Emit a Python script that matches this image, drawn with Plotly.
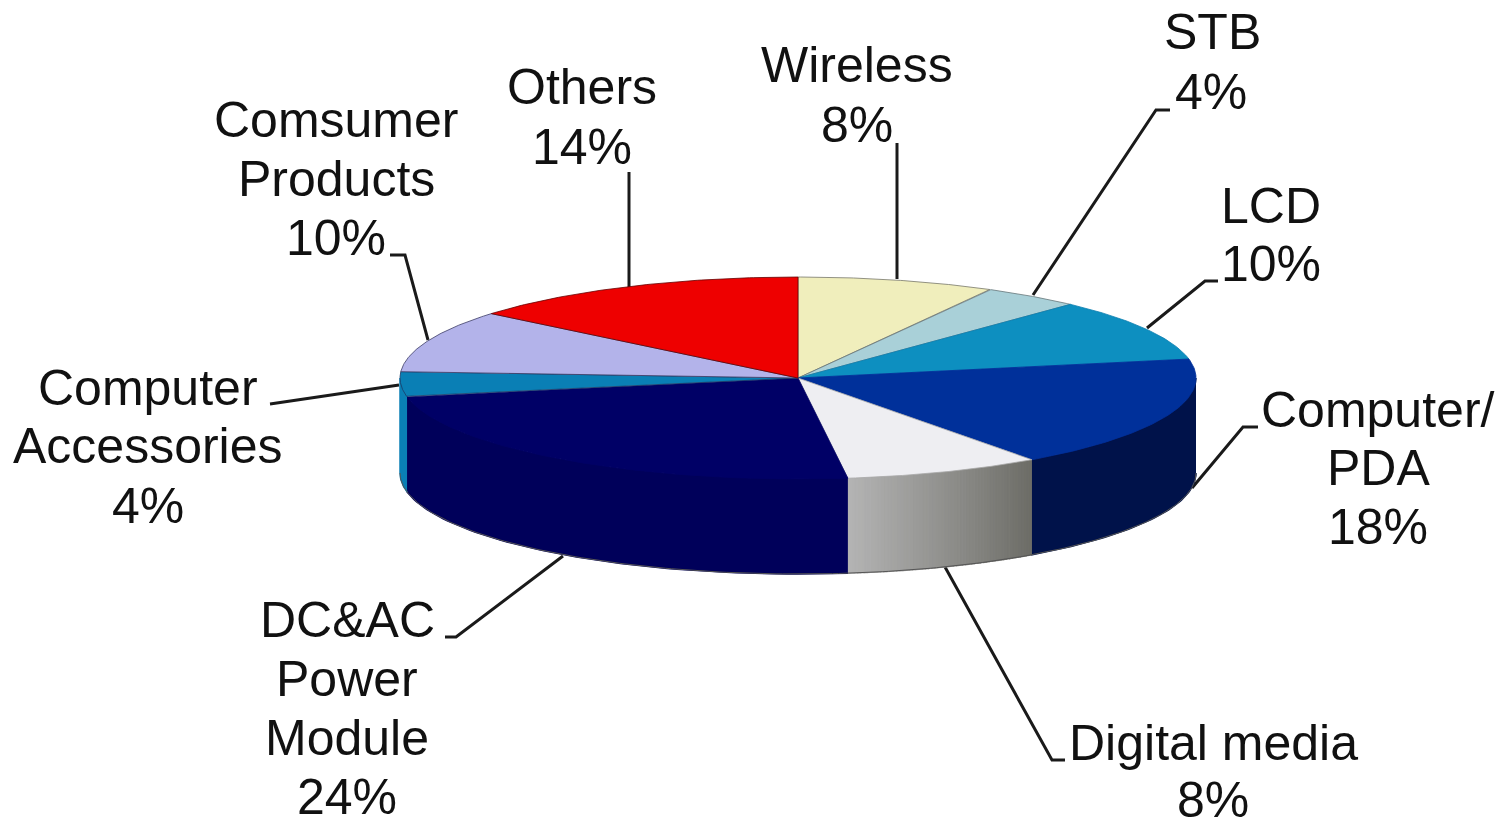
import numpy as np
import plotly.graph_objects as go

categories = ["Wireless", "STB", "LCD", "Computer/PDA", "Digital media",
              "DC&AC Power Module", "Computer Accessories", "Comsumer Products", "Others"]
values = [8, 4, 10, 18, 8, 24, 4, 10, 14]
top_colors = ["#f0eebc", "#a9d0d8", "#0d8fc0", "#00309a", "#eeeef2",
              "#000066", "#0a7fb5", "#b3b3ea", "#ee0000"]
top_outline = ["#77776a", "#66767a", "#0d7fb0", "#00309a", "#aaaaaa",
               "#000066", "#1a3a66", "#3c3c66", "#660000"]
side_from = ["#f0eebc", "#a9d0d8", "#0d8fc0", "#00124a", "#b4b4b4",
             "#00005a", "#0a7fb5", "#b3b3ea", "#ee0000"]
side_to = ["#f0eebc", "#a9d0d8", "#0d8fc0", "#00124a", "#6c6c66",
           "#00005a", "#0a7fb5", "#b3b3ea", "#ee0000"]

label_lines = [
    ("Wireless", 857, 65), ("8%", 857, 125),
    ("STB", 1212, 32), ("4%", 1211, 92),
    ("LCD", 1271, 206), ("10%", 1271, 264),
    ("Computer/", 1378, 410), ("PDA", 1378, 468), ("18%", 1378, 527),
    ("Digital media", 1213, 743), ("8%", 1213, 800),
    ("DC&AC", 347, 620), ("Power", 347, 679), ("Module", 347, 738), ("24%", 347, 797),
    ("Computer", 148, 388), ("Accessories", 148, 446), ("4%", 148, 506),
    ("Comsumer", 336, 120), ("Products", 336, 179), ("10%", 336, 238),
    ("Others", 582, 87), ("14%", 582, 147),
]
leaders = [
    [(897, 143), (897, 279)],
    [(1170, 110), (1156, 110), (1033, 295)],
    [(1218, 281), (1205, 281), (1147, 328)],
    [(1258, 427), (1243, 427), (1192, 488)],
    [(1065, 760), (1052, 760), (945, 567)],
    [(445, 637), (456, 637), (563, 556)],
    [(270, 404), (399, 385)],
    [(390, 255), (405, 255), (428, 340)],
    [(629, 172), (629, 289)],
]

CX, CY, RX, RY, DEPTH = 798, 378, 398, 101, 95


def rim(theta):
    return CX + RX * np.sin(theta), CY - RY * np.cos(theta)


def hex2rgb(h):
    return [int(h[i:i + 2], 16) for i in (1, 3, 5)]


def mix(a, b, t):
    ca, cb = hex2rgb(a), hex2rgb(b)
    return "rgb(%d,%d,%d)" % tuple(round(p + (q - p) * t) for p, q in zip(ca, cb))


fig = go.Figure()


def poly(xs, ys, fill, line=None, width=1.5):
    fig.add_trace(go.Scatter(x=list(xs), y=list(ys), mode="lines", fill="toself",
                             fillcolor=fill, line=dict(color=line or fill, width=width),
                             hoverinfo="skip", showlegend=False))


edges = np.cumsum([0] + values) / sum(values) * 2 * np.pi

# side wall, only the front half of the rim faces the viewer
for i in range(len(values)):
    a = max(edges[i], np.pi / 2)
    b = min(edges[i + 1], 3 * np.pi / 2)
    if b <= a:
        continue
    steps = 1 if side_from[i] == side_to[i] else 60
    cuts = np.linspace(a, b, steps + 1)
    for k in range(steps):
        th = np.linspace(cuts[k], cuts[k + 1], 60 if steps == 1 else 3)
        x, y = rim(th)
        xs = np.r_[x, x[::-1]]
        ys = np.r_[y, (y + DEPTH)[::-1]]
        poly(xs, ys, mix(side_from[i], side_to[i], 1 - (k + 0.5) / steps))

# outline of the lower rim
th = np.linspace(np.pi / 2, 3 * np.pi / 2, 200)
x, y = rim(th)
fig.add_trace(go.Scatter(x=x, y=y + DEPTH, mode="lines",
                         line=dict(color="#555555", width=1), hoverinfo="skip", showlegend=False))

# top face
for i in range(len(values)):
    th = np.linspace(edges[i], edges[i + 1], 80)
    x, y = rim(th)
    poly(np.r_[CX, x, CX], np.r_[CY, y, CY], top_colors[i], line=top_outline[i], width=0.8)

for pts in leaders:
    fig.add_shape(type="path", path="M " + " L ".join(f"{px},{py}" for px, py in pts),
                  line=dict(color="#1a1a1a", width=3), layer="below")

for text, lx, ly in label_lines:
    fig.add_annotation(x=lx, y=ly, text=text, showarrow=False, xanchor="center", yanchor="middle",
                       font=dict(family="Liberation Sans", size=50, color="#111111"))

fig.update_layout(width=1500, height=819, margin=dict(l=0, r=0, t=0, b=0),
                  paper_bgcolor="white", plot_bgcolor="white", showlegend=False,
                  xaxis=dict(range=[0, 1500], visible=False, fixedrange=True),
                  yaxis=dict(range=[819, 0], visible=False, fixedrange=True))
fig.write_html("out.html", config={"displayModeBar": False},
               post_script="document.body.style.margin='0';document.body.style.overflow='hidden';")
